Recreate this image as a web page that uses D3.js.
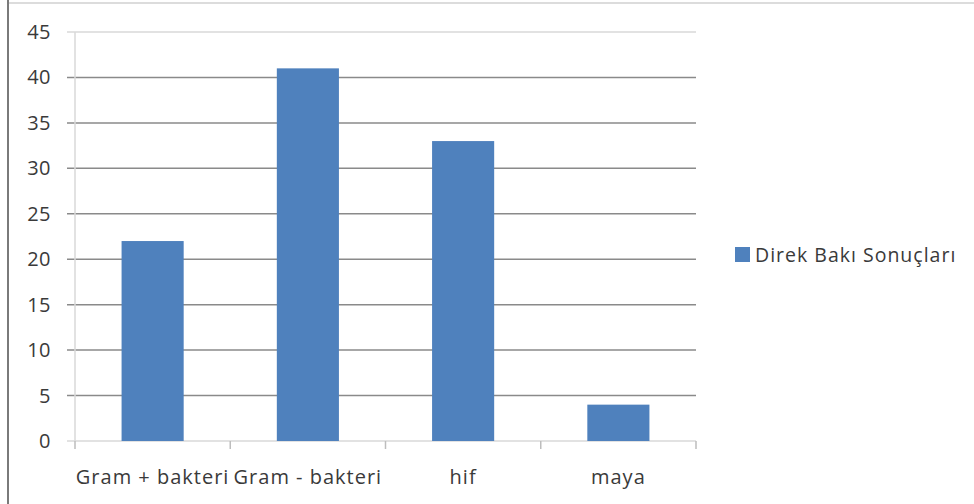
<!DOCTYPE html>
<html>
<head>
<meta charset="utf-8">
<script src="https://cdn.jsdelivr.net/npm/d3@7"></script>
<style>
  html, body { margin: 0; padding: 0; background: #fff; }
  svg { display: block; font-family: "Open Sans", Lato, sans-serif; }
</style>
</head>
<body>
<svg id="chart" width="974" height="504"></svg>
<script>
// Sample counts by direct microscopy result
const categories = ["Gram + bakteri", "Gram - bakteri", "hif", "maya"];
const values = [22, 41, 33, 4];
const seriesName = "Direk Bakı Sonuçları";
const yTicks = [0, 5, 10, 15, 20, 25, 30, 35, 40, 45];

const svg = d3.select("#chart");
const plotLeft = 75, plotRight = 696, plotTop = 32, plotBottom = 441;

// outer frame edges
svg.append("line").attr("x1", 8).attr("x2", 974).attr("y1", 3).attr("y2", 3)
  .attr("stroke", "#dcdcdc").attr("stroke-width", 2);
svg.append("line").attr("x1", 8).attr("x2", 8).attr("y1", 0).attr("y2", 504)
  .attr("stroke", "#7a7a7a").attr("stroke-width", 2);

const x = d3.scaleBand().domain(categories).range([plotLeft, plotRight]).paddingInner(0.6).paddingOuter(0.3);
const xb = d3.scaleBand().domain(categories).range([plotLeft, plotRight]);
const y = d3.scaleLinear().domain([0, 45]).range([plotBottom, plotTop]);

// horizontal gridlines with left tick stubs
svg.append("g").selectAll("line").data(yTicks).join("line")
  .attr("x1", plotLeft - 8).attr("x2", plotRight)
  .attr("y1", d => y(d)).attr("y2", d => y(d))
  .attr("stroke", d => (d === 0 || d === 45) ? "#d9d9d9" : "#8a8a8a")
  .attr("stroke-width", 1.5);

// vertical axis line
svg.append("line").attr("x1", plotLeft).attr("x2", plotLeft).attr("y1", plotTop).attr("y2", plotBottom)
  .attr("stroke", "#d9d9d9").attr("stroke-width", 1.5);

// y tick labels
svg.append("g").selectAll("text").data(yTicks).join("text")
  .attr("x", 51).attr("y", d => y(d)).attr("dy", "0.35em")
  .attr("text-anchor", "end").attr("font-size", 20).attr("fill", "#3a3a3a")
  .attr("letter-spacing", 0.5)
  .text(d => d);

// category boundary ticks
const bounds = categories.map(c => xb(c)).concat([plotRight]);
svg.append("g").selectAll("line").data(bounds).join("line")
  .attr("x1", d => d).attr("x2", d => d).attr("y1", plotBottom).attr("y2", plotBottom + 8)
  .attr("stroke", "#bdbdbd").attr("stroke-width", 1.5);

// bars
svg.append("g").selectAll("rect").data(values).join("rect")
  .attr("x", (d, i) => x(categories[i]))
  .attr("width", x.bandwidth())
  .attr("y", d => y(d))
  .attr("height", d => y(0) - y(d))
  .attr("fill", "#4f81bd");

// category labels
svg.append("g").selectAll("text").data(categories).join("text")
  .attr("x", d => xb(d) + xb.bandwidth() / 2).attr("y", 477).attr("dy", "0.35em")
  .attr("text-anchor", "middle").attr("font-size", 20).attr("fill", "#3a3a3a")
  .attr("letter-spacing", 1)
  .text(d => d);

// legend
svg.append("rect").attr("x", 735).attr("y", 247).attr("width", 15).attr("height", 15).attr("fill", "#4f81bd");
svg.append("text").attr("x", 755).attr("y", 255).attr("dy", "0.35em")
  .attr("font-size", 19.5).attr("fill", "#3a3a3a").attr("letter-spacing", 1)
  .text(seriesName);
</script>
</body>
</html>
